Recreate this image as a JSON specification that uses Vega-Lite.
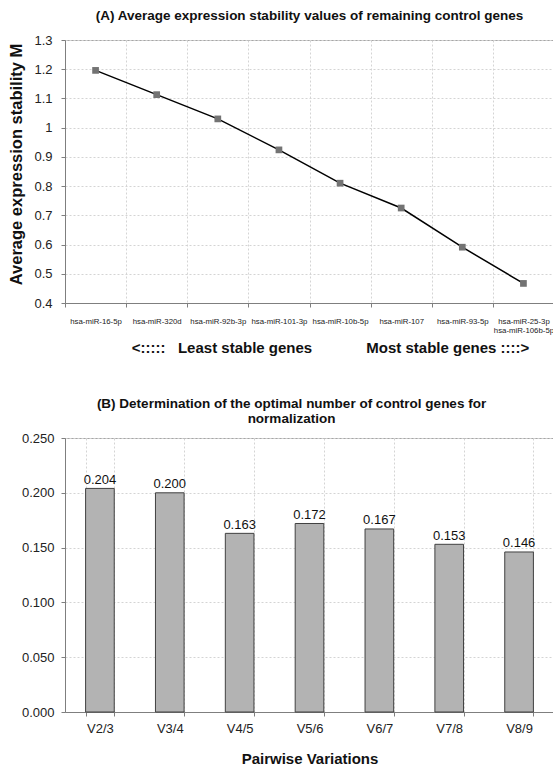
{
  "$schema": "https://vega.github.io/schema/vega-lite/v6.json",
  "background": "white",
  "padding": {"left": 8, "top": 8, "right": 0, "bottom": 0},
  "bounds": "flush",
  "spacing": 135,
  "config": {
    "font": "Liberation Sans",
    "view": {"stroke": "#a6a6a6", "strokeWidth": 1},
    "axis": {
      "labelFont": "Liberation Sans",
      "titleFont": "Liberation Sans",
      "labelColor": "#222222",
      "titleColor": "#111111",
      "domainColor": "#7f7f7f",
      "tickColor": "#7f7f7f",
      "gridColor": "#d4d4d4",
      "gridDash": [2, 2],
      "gridWidth": 1
    },
    "title": {"font": "Liberation Sans", "color": "#111111"}
  },
  "vconcat": [
    {
      "width": 489,
      "height": 263,
      "title": {
        "text": "(A) Average expression stability values of remaining control genes",
        "fontSize": 13.5,
        "fontWeight": "bold",
        "offset": 12
      },
      "data": {
        "values": [
          {"gene": "hsa-miR-16-5p", "M": 1.196},
          {"gene": "hsa-miR-320d", "M": 1.113},
          {"gene": "hsa-miR-92b-3p", "M": 1.03},
          {"gene": "hsa-miR-101-3p", "M": 0.924},
          {"gene": "hsa-miR-10b-5p", "M": 0.81},
          {"gene": "hsa-miR-107", "M": 0.725},
          {"gene": "hsa-miR-93-5p", "M": 0.591},
          {"gene": "hsa-miR-25-3p\nhsa-miR-106b-5p", "M": 0.467}
        ]
      },
      "encoding": {
        "x": {
          "field": "gene",
          "type": "nominal",
          "sort": null,
          "scale": {"type": "band", "paddingInner": 0, "paddingOuter": 0},
          "axis": {
            "title": "<:::::\u00a0\u00a0\u00a0Least stable genes\u00a0\u00a0\u00a0\u00a0\u00a0\u00a0\u00a0\u00a0\u00a0\u00a0\u00a0\u00a0\u00a0Most stable genes ::::>",
            "titleFontSize": 15,
            "titleFontWeight": "bold",
            "titlePadding": 7,
            "titleX": 265,
            "labelAngle": 0,
            "labelFontSize": 7.8,
            "labelOverlap": false,
            "labelPadding": 10,
            "labelLineHeight": 9,
            "labelExpr": "split(datum.label, '\\n')",
            "tickBand": "extent",
            "tickSize": 4,
            "grid": true
          }
        },
        "y": {
          "field": "M",
          "type": "quantitative",
          "scale": {"domain": [0.4, 1.3], "nice": false, "zero": false},
          "axis": {
            "title": "Average expression stability M",
            "titleFontSize": 16.5,
            "titleFontWeight": "bold",
            "titlePadding": 9,
            "titleY": 124,
            "values": [0.4, 0.5, 0.6, 0.7, 0.8, 0.9, 1, 1.1, 1.2, 1.3],
            "format": ".1~f",
            "labelFontSize": 13,
            "labelPadding": 9,
            "tickSize": 4,
            "grid": true
          }
        }
      },
      "layer": [
        {"mark": {"type": "line", "color": "#000000", "strokeWidth": 1.5}},
        {"mark": {"type": "square", "size": 45, "color": "#737373", "filled": true, "opacity": 1}}
      ]
    },
    {
      "width": 489,
      "height": 274,
      "title": {
        "text": ["(B) Determination of the optimal number of control genes for", "normalization"],
        "fontSize": 13.5,
        "fontWeight": "bold",
        "dx": -18,
        "offset": 7,
        "lineHeight": 15
      },
      "data": {
        "values": [
          {"pair": "V2/3", "V": 0.204},
          {"pair": "V3/4", "V": 0.2},
          {"pair": "V4/5", "V": 0.163},
          {"pair": "V5/6", "V": 0.172},
          {"pair": "V6/7", "V": 0.167},
          {"pair": "V7/8", "V": 0.153},
          {"pair": "V8/9", "V": 0.146}
        ]
      },
      "encoding": {
        "x": {
          "field": "pair",
          "type": "nominal",
          "sort": null,
          "scale": {"type": "band", "paddingInner": 0.59, "paddingOuter": 0.295},
          "axis": {
            "title": "Pairwise Variations",
            "titleFontSize": 15,
            "titleFontWeight": "bold",
            "titlePadding": 16,
            "labelAngle": 0,
            "labelFontSize": 13,
            "labelPadding": 6,
            "tickBand": "extent",
            "tickSize": 4,
            "grid": true
          }
        },
        "y": {
          "field": "V",
          "type": "quantitative",
          "scale": {"domain": [0, 0.25], "nice": false},
          "axis": {
            "title": null,
            "values": [0, 0.05, 0.1, 0.15, 0.2, 0.25],
            "format": ".3f",
            "labelFontSize": 13,
            "labelPadding": 7,
            "tickSize": 4,
            "grid": true
          }
        }
      },
      "layer": [
        {"mark": {"type": "bar", "color": "#b3b3b3", "stroke": "#404040", "strokeWidth": 1}},
        {
          "mark": {"type": "text", "dy": -1.5, "fontSize": 13, "color": "#111111", "baseline": "bottom"},
          "encoding": {"text": {"field": "V", "type": "quantitative", "format": ".3f"}}
        }
      ]
    }
  ]
}
